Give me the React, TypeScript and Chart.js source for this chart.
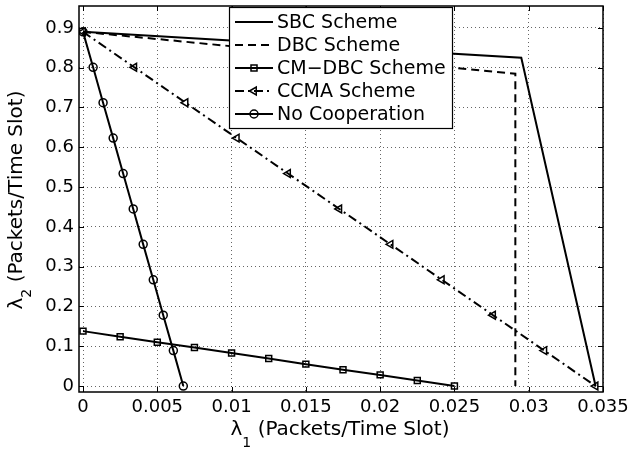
import React, { useEffect, useRef } from "react";
import { Chart, registerables } from "chart.js";

Chart.register(...registerables);

// ---------- data ----------
const xTickValues = [0, 0.005, 0.01, 0.015, 0.02, 0.025, 0.03, 0.035];
const xTickLabels = ["0", "0.005", "0.01", "0.015", "0.02", "0.025", "0.03", "0.035"];
const yTickValues = [0, 0.1, 0.2, 0.3, 0.4, 0.5, 0.6, 0.7, 0.8, 0.9];
const yTickLabels = ["0", "0.1", "0.2", "0.3", "0.4", "0.5", "0.6", "0.7", "0.8", "0.9"];

const seriesLabels = ["SBC Scheme", "DBC Scheme", "CM\u2212DBC Scheme", "CCMA Scheme", "No Cooperation"];

const sbcX = [0, 0.0295, 0.0345];
const sbcY = [0.89, 0.825, 0];

const dbcX = [0, 0.0291, 0.0291];
const dbcY = [0.89, 0.785, 0];

const cmdbcX = [0, 0.0025, 0.005, 0.0075, 0.01, 0.0125, 0.015, 0.0175, 0.02, 0.0225, 0.025];
const cmdbcY = [0.138, 0.124, 0.11, 0.097, 0.083, 0.069, 0.055, 0.041, 0.028, 0.014, 0];

const ccmaX = [0, 0.00345, 0.0069, 0.01035, 0.0138, 0.01725, 0.0207, 0.02415, 0.0276, 0.03105, 0.0345];
const ccmaY = [0.89, 0.801, 0.712, 0.623, 0.534, 0.445, 0.356, 0.267, 0.178, 0.089, 0];

const noCoopX = [0, 0.00068, 0.00135, 0.00203, 0.0027, 0.00338, 0.00405, 0.00473, 0.0054, 0.00608, 0.00675];
const noCoopY = [0.89, 0.801, 0.712, 0.623, 0.534, 0.445, 0.356, 0.267, 0.178, 0.089, 0];

const xRange = [-0.00027, 0.035];
const yRange = [-0.015, 0.955];

// ---------- styles ----------
const FONT = "'DejaVu Sans', 'Liberation Sans', sans-serif";
const styles = [
  { dash: [] as number[], marker: "none" },
  { dash: [8, 5], marker: "none" },
  { dash: [] as number[], marker: "rect" },
  { dash: [9, 4, 2, 4], marker: "triangle" },
  { dash: [] as number[], marker: "circle" },
];

function toPts(xs: number[], ys: number[]) {
  return xs.map((x, i) => ({ x, y: ys[i] }));
}

function drawMarker(ctx: CanvasRenderingContext2D, kind: string, x: number, y: number) {
  ctx.save();
  ctx.setLineDash([]);
  ctx.lineWidth = 1.5;
  ctx.strokeStyle = "#000";
  ctx.beginPath();
  if (kind === "rect") {
    ctx.rect(x - 3, y - 3, 6, 6);
  } else if (kind === "circle") {
    ctx.arc(x, y, 4, 0, Math.PI * 2);
  } else if (kind === "triangle") {
    ctx.moveTo(x - 4.5, y);
    ctx.lineTo(x + 2.25, y - 3.9);
    ctx.lineTo(x + 2.25, y + 3.9);
    ctx.closePath();
  }
  ctx.stroke();
  ctx.restore();
}

function drawLambdaTitle(
  ctx: CanvasRenderingContext2D,
  sub: string,
  rest: string,
  subDrop: number
) {
  const main = `20px ${FONT}`;
  const small = `14px ${FONT}`;
  ctx.font = main;
  const wL = ctx.measureText("\u03bb").width;
  const wR = ctx.measureText(rest).width;
  ctx.font = small;
  const wS = ctx.measureText(sub).width;
  const total = wL + wS + wR;
  let x = -total / 2;
  ctx.textAlign = "left";
  ctx.textBaseline = "alphabetic";
  ctx.fillStyle = "#000";
  ctx.font = main;
  ctx.fillText("\u03bb", x, 0);
  x += wL;
  ctx.font = small;
  ctx.fillText(sub, x, subDrop);
  x += wS;
  ctx.font = main;
  ctx.fillText(rest, x, 0);
}

const decorPlugin = {
  id: "decor",
  afterDatasetsDraw(chart: any) {
    const ctx: CanvasRenderingContext2D = chart.ctx;
    const { left, right, top, bottom } = chart.chartArea;
    const xs = chart.scales.x;
    const ys = chart.scales.y;

    ctx.save();
    // inward tick marks
    ctx.strokeStyle = "#000";
    ctx.lineWidth = 1;
    ctx.setLineDash([]);
    ctx.beginPath();
    xTickValues.forEach((v) => {
      const px = Math.round(xs.getPixelForValue(v)) + 0.5;
      ctx.moveTo(px, bottom);
      ctx.lineTo(px, bottom - 5);
      ctx.moveTo(px, top);
      ctx.lineTo(px, top + 5);
    });
    yTickValues.forEach((v) => {
      const py = Math.round(ys.getPixelForValue(v)) + 0.5;
      ctx.moveTo(left, py);
      ctx.lineTo(left + 5, py);
      ctx.moveTo(right, py);
      ctx.lineTo(right - 5, py);
    });
    ctx.stroke();

    // axes box
    ctx.lineWidth = 1.5;
    ctx.strokeRect(left, top, right - left, bottom - top);

    // legend
    const lx = 229, ly = 7, lw = 223, lh = 121;
    ctx.fillStyle = "#fff";
    ctx.fillRect(lx, ly, lw, lh);
    ctx.lineWidth = 1.2;
    ctx.strokeStyle = "#000";
    ctx.strokeRect(lx + 0.5, ly + 0.5, lw, lh);
    ctx.font = `19px ${FONT}`;
    ctx.textBaseline = "middle";
    ctx.textAlign = "left";
    seriesLabels.forEach((label, i) => {
      const y = 22 + i * 23;
      const st = styles[i];
      ctx.save();
      ctx.strokeStyle = "#000";
      ctx.lineWidth = 2;
      ctx.setLineDash(st.dash);
      ctx.beginPath();
      ctx.moveTo(235, y);
      ctx.lineTo(273, y);
      ctx.stroke();
      ctx.restore();
      if (st.marker !== "none") drawMarker(ctx, st.marker, 254, y);
      ctx.fillStyle = "#000";
      ctx.fillText(label, 277, y + 1);
    });
    ctx.restore();

    // axis titles
    ctx.save();
    ctx.translate(340, 435);
    drawLambdaTitle(ctx, "1", " (Packets/Time Slot)", 12);
    ctx.restore();

    ctx.save();
    ctx.translate(22, 200);
    ctx.rotate(-Math.PI / 2);
    drawLambdaTitle(ctx, "2", " (Packets/Time Slot)", 9);
    ctx.restore();
  },
};

export default function App() {
  const ref = useRef<HTMLCanvasElement | null>(null);

  useEffect(() => {
    document.body.style.margin = "0";
    const canvas = ref.current;
    if (!canvas) return;

    const series = [
      toPts(sbcX, sbcY),
      toPts(dbcX, dbcY),
      toPts(cmdbcX, cmdbcY),
      toPts(ccmaX, ccmaY),
      toPts(noCoopX, noCoopY),
    ];

    const datasets = series.map((data, i) => {
      const st = styles[i];
      return {
        label: seriesLabels[i],
        data,
        borderColor: "#000",
        borderWidth: 2,
        borderDash: st.dash,
        backgroundColor: "rgba(0,0,0,0)",
        fill: false,
        tension: 0,
        pointStyle: st.marker === "none" ? "circle" : st.marker,
        pointRadius: st.marker === "none" ? 0 : st.marker === "rect" ? 4.2 : st.marker === "triangle" ? 4.5 : 4,
        pointRotation: st.marker === "triangle" ? -90 : 0,
        pointBorderColor: "#000",
        pointBackgroundColor: "rgba(0,0,0,0)",
        pointBorderWidth: 1.5,
      };
    });

    const chart = new Chart(canvas, {
      type: "line",
      data: { datasets: datasets as any },
      options: {
        responsive: false,
        animation: false,
        events: [],
        layout: { padding: { top: 3, right: 28, left: 0, bottom: 0 } },
        plugins: {
          legend: { display: false },
          tooltip: { enabled: false },
          title: { display: false },
        },
        scales: {
          x: {
            type: "linear",
            min: xRange[0],
            max: xRange[1],
            afterBuildTicks: (scale: any) => {
              scale.ticks = xTickValues.map((v) => ({ value: v }));
            },
            afterFit: (scale: any) => {
              scale.height = 57;
              scale.paddingLeft = 0;
              scale.paddingRight = 0;
            },
            ticks: {
              autoSkip: false,
              maxRotation: 0,
              minRotation: 0,
              padding: 5,
              color: "#000",
              font: { family: FONT, size: 18 },
              callback: (value: any) => {
                const idx = xTickValues.findIndex((v) => Math.abs(v - Number(value)) < 1e-9);
                return idx >= 0 ? xTickLabels[idx] : "";
              },
            },
            grid: {
              color: "rgba(0,0,0,0.6)",
              lineWidth: 1,
              drawTicks: false,
            },
            border: { display: false, dash: [1, 3] },
          },
          y: {
            type: "linear",
            min: yRange[0],
            max: yRange[1],
            afterBuildTicks: (scale: any) => {
              scale.ticks = yTickValues.map((v) => ({ value: v }));
            },
            afterFit: (scale: any) => {
              scale.width = 79;
              scale.paddingTop = 0;
              scale.paddingBottom = 0;
            },
            ticks: {
              autoSkip: false,
              padding: 5,
              color: "#000",
              font: { family: FONT, size: 18 },
              callback: (value: any) => {
                const idx = yTickValues.findIndex((v) => Math.abs(v - Number(value)) < 1e-9);
                return idx >= 0 ? yTickLabels[idx] : "";
              },
            },
            grid: {
              color: "rgba(0,0,0,0.6)",
              lineWidth: 1,
              drawTicks: false,
            },
            border: { display: false, dash: [1, 3] },
          },
        },
      },
      plugins: [decorPlugin],
    });

    return () => {
      chart.destroy();
    };
  }, []);

  return (
    <div style={{ width: 631, height: 449, background: "#fff" }}>
      <canvas ref={ref} width={631} height={449} style={{ display: "block" }} />
    </div>
  );
}
